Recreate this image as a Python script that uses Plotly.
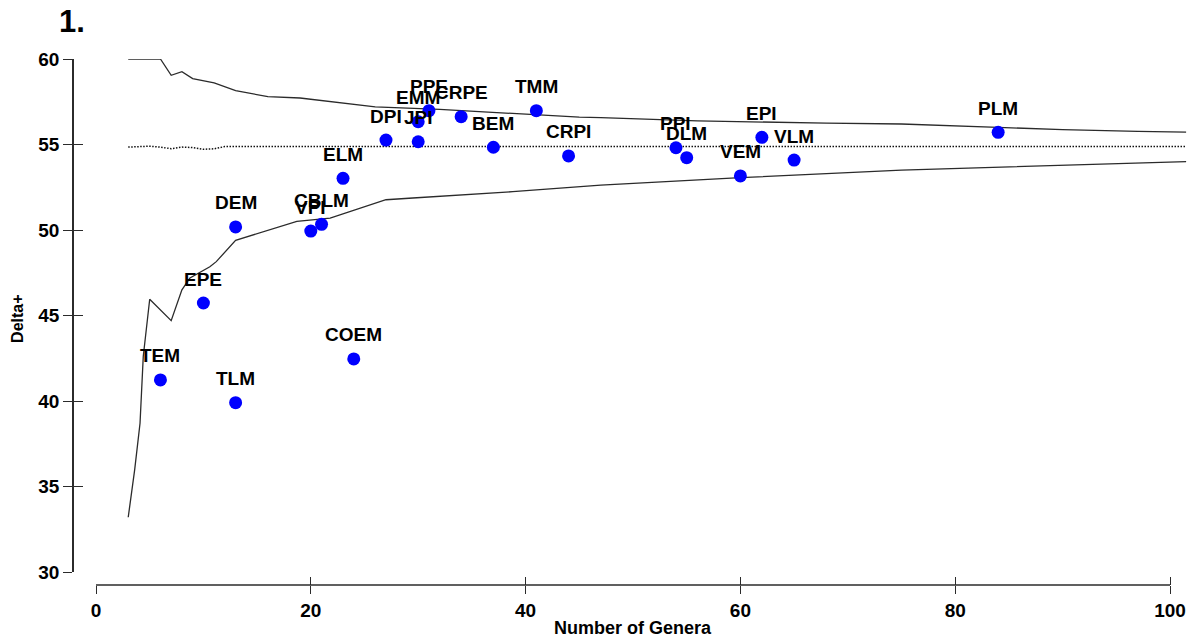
import plotly.graph_objects as go

# ---- data ----
labels = ["TEM", "TLM", "EPE", "DEM", "COEM", "VPI", "CBLM", "ELM", "DPI", "JPI", "EMM",
          "PPE", "CRPE", "BEM", "TMM", "CRPI", "PPI", "DLM", "VEM", "EPI", "VLM", "PLM"]
genera = [6, 13, 10, 13, 24, 20, 21, 23, 27, 30, 30, 31, 34, 37, 41, 44, 54, 55, 60, 62, 65, 84]
delta_plus = [41.23, 39.9, 45.73, 50.18, 42.46, 49.94, 50.33, 53.02, 55.26, 55.16, 56.33,
              56.98, 56.63, 54.84, 56.98, 54.33, 54.81, 54.23, 53.16, 55.42, 54.09, 55.71]

upper_x = [3, 6, 7, 8, 9, 11, 13, 15, 16, 19, 21, 26, 32, 39, 45, 47, 56, 68, 75, 84, 90, 97, 101.5]
upper_y = [60, 60, 59.05, 59.26, 58.85, 58.6, 58.15, 57.9, 57.8, 57.72, 57.57, 57.2, 57.05,
           56.8, 56.6, 56.57, 56.38, 56.25, 56.2, 56.0, 55.87, 55.77, 55.72]

mean_x = [3, 5, 6, 7, 8, 9, 10, 11, 12, 15, 20, 30, 40, 60, 80, 101.5]
mean_y = [54.85, 54.9, 54.85, 54.75, 54.85, 54.82, 54.72, 54.75, 54.88, 54.88, 54.9, 54.9,
          54.9, 54.9, 54.88, 54.88]

lower_x = [3, 3.6, 4.1, 4.4, 5, 7, 8, 8.75, 10.6, 11.2, 13, 16, 18.7, 21.8, 25.5, 27, 29.5,
           38.8, 47, 60, 75, 87, 101.5]
lower_y = [33.2, 35.97, 38.7, 42.6, 45.95, 44.7, 46.5, 47.2, 47.85, 48.15, 49.4, 50.0, 50.5,
           50.7, 51.46, 51.77, 51.87, 52.24, 52.63, 53.06, 53.5, 53.74, 54.0]

x_ticks = [0, 20, 40, 60, 80, 100]
y_ticks = [30, 35, 40, 45, 50, 55, 60]
x_title = "Number of Genera"
y_title = "Delta+"
panel_title = "1."

# ---- geometry ----
W, H = 1200, 644
ML, MR, MT, MB = 73, 5, 59, 59
pw = W - ML - MR
ph = H - MT - MB
x_px0, x_unit = 96.0, 10.74
x_max = 102.0
xd0 = (x_px0 - ML) / pw
xd1 = (x_px0 + x_max * x_unit - ML) / pw
yd0 = (H - MB - 572) / ph  # y=30 at 572 px

FONT = "Liberation Sans, Arial, sans-serif"
LINE_C = "#2b2b2b"

fig = go.Figure()

fig.add_trace(go.Scatter(x=upper_x, y=upper_y, mode="lines",
                         line=dict(color=LINE_C, width=1.3), hoverinfo="skip", showlegend=False))
fig.add_trace(go.Scatter(x=mean_x, y=mean_y, mode="lines",
                         line=dict(color="#111111", width=1.5, dash="1.5px,1.5px"), hoverinfo="skip", showlegend=False))
fig.add_trace(go.Scatter(x=lower_x, y=lower_y, mode="lines",
                         line=dict(color=LINE_C, width=1.3), hoverinfo="skip", showlegend=False))
fig.add_trace(go.Scatter(x=genera, y=delta_plus, mode="markers",
                         marker=dict(color="#0000FF", size=13, line=dict(width=0)),
                         showlegend=False, cliponaxis=False))
# dummy trace to hold overlay axes (ticks crossing the axis line)
fig.add_trace(go.Scatter(x=[None], y=[None], xaxis="x2", yaxis="y2", showlegend=False, hoverinfo="skip"))

for lab, gx, dy in zip(labels, genera, delta_plus):
    fig.add_annotation(x=gx, y=dy, text=lab, showarrow=False, yshift=24,
                       xanchor="center", yanchor="middle",
                       font=dict(family=FONT, size=19, color="black", weight="bold"))

tickfont = dict(family=FONT, size=19, color="black", weight="bold")

common_x = dict(range=[0, x_max], domain=[xd0, xd1], anchor="free", position=0,
                tickvals=x_ticks, ticklen=8, tickwidth=1.3, tickcolor=LINE_C,
                showgrid=False, zeroline=False, showline=False, fixedrange=True)
common_y = dict(range=[30, 60], domain=[yd0, 1], anchor="free", position=0,
                tickvals=y_ticks, ticklen=9, tickwidth=1.3, tickcolor=LINE_C,
                showgrid=False, zeroline=False, fixedrange=True)

fig.update_layout(
    width=W, height=H,
    margin=dict(l=ML, r=MR, t=MT, b=MB),
    paper_bgcolor="white", plot_bgcolor="white",
    xaxis=dict(**common_x, ticks="outside", tickfont=tickfont),
    yaxis=dict(**common_y, ticks="outside", tickfont=tickfont,
               showline=True, linecolor=LINE_C, linewidth=1.5),
    xaxis2=dict(**common_x, overlaying="x", ticks="inside", showticklabels=False),
    yaxis2=dict(**common_y, overlaying="y", ticks="inside", showticklabels=False, showline=False),
    title=dict(text=panel_title, x=59 / W, xanchor="left", y=1 - 21 / H, yanchor="middle",
               font=dict(family=FONT, size=31, color="black", weight="bold")),
)

# x axis line from 0 to 100 only
fig.add_shape(type="line", xref="x", yref="paper", x0=x_ticks[0], x1=x_ticks[-1], y0=0, y1=0,
              line=dict(color=LINE_C, width=1.5))

fig.add_annotation(x=50, xref="x", y=0, yref="paper", yshift=-43, text=x_title, showarrow=False,
                   xanchor="center", yanchor="middle",
                   font=dict(family=FONT, size=18, color="black", weight="bold"))
fig.add_annotation(x=0, xref="paper", xshift=-55, y=44.8, yref="y", text=y_title, showarrow=False,
                   textangle=-90, xanchor="center", yanchor="middle",
                   font=dict(family=FONT, size=16, color="black", weight="bold"))

fig.write_html("out.html")
